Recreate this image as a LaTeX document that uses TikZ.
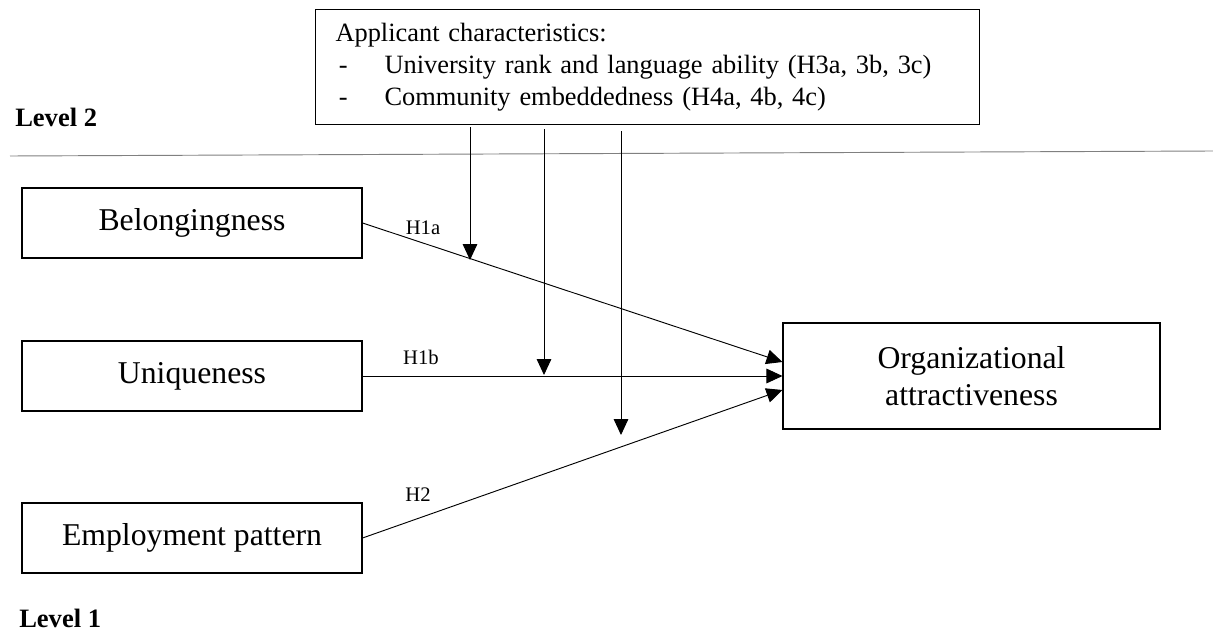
\documentclass[tikz,border=0pt]{standalone}
\usepackage{fontspec}
\setmainfont{Liberation Serif}
\usetikzlibrary{arrows.meta}

\tikzset{
  varbox/.style={draw, line width=0.8pt, minimum width=255pt, minimum height=52.5pt, inner sep=0pt,
    font=\fontsize{23.8}{28}\selectfont},
  hyp/.style={font=\fontsize{15.5}{18}\selectfont},
  lvl/.style={anchor=west, inner sep=0pt, font=\fontsize{19.9}{24}\selectfont\bfseries},
  causal/.style={line width=0.7pt, -{Triangle[length=12pt,width=11pt]}}
}

\begin{document}
\begin{tikzpicture}[x=0.75pt, y=-0.75pt]
\useasboundingbox (0,0) rectangle (1213,638);

\node[draw, line width=0.8pt, anchor=north west, text width=468pt, inner xsep=15pt, minimum height=86.25pt, align=left,
  font=\fontsize{19.8}{24}\selectfont] (appl) at (315,9)
  {Applicant characteristics:\\
   \makebox[36.75pt][l]{\hspace{2.5pt}-}University rank and language ability (H3a, 3b, 3c)\\
   \makebox[36.75pt][l]{\hspace{2.5pt}-}Community embeddedness (H4a, 4b, 4c)};

\node[lvl] (lvtwo) at (15,117) {Level 2};
\draw[gray, line width=0.7pt] (10,156) coordinate (sepl) -- (1213,151) coordinate (sepr);

\node[varbox] (belong) at (192,223) {Belongingness};
\node[varbox] (uniq) at (192,376) {Uniqueness};
\node[varbox] (employ) at (192,538) {Employment pattern};
\node[varbox, minimum width=282.75pt, minimum height=79.5pt, align=center] (orgattr) at (971.5,376)
  {Organizational\\attractiveness};

\node[lvl] (lvone) at (19,618) {Level 1};

\draw[causal] (belong.east) -- ([yshift=10.5pt]orgattr.west);
\draw[causal] (uniq.east) -- (orgattr.west);
\draw[causal] (employ.east) -- ([yshift=-10.5pt]orgattr.west);

\node[hyp] (hone) at (423,228) {H1a};
\node[hyp] (htwo) at (421,357) {H1b};
\node[hyp] (hthree) at (418,495) {H2};

\coordinate (mone) at (470,260);
\coordinate (mtwo) at (544,375);
\coordinate (mthree) at (621,435);
\draw[causal] ([yshift=-1.5pt]appl.south -| mone) -- (mone);
\draw[causal] ([yshift=-3pt]appl.south -| mtwo) -- (mtwo);
\draw[causal] ([yshift=-4.5pt]appl.south -| mthree) -- (mthree);

\end{tikzpicture}
\end{document}
